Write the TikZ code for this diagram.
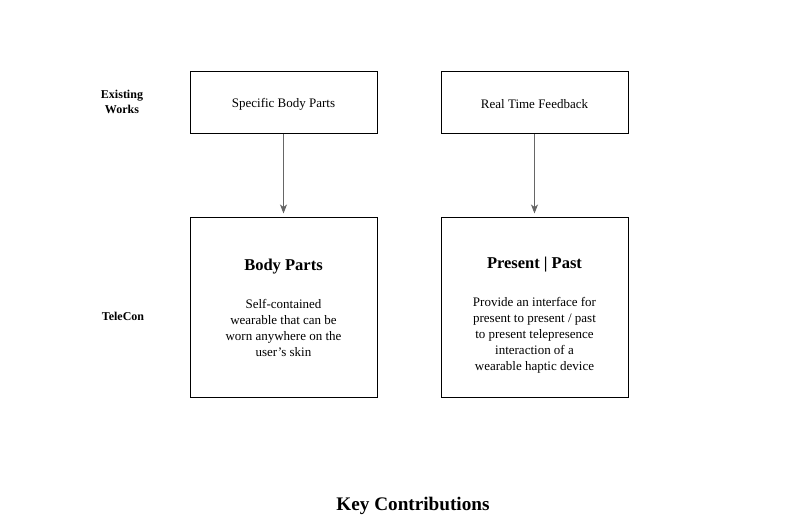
\documentclass[tikz,border=0pt]{standalone}
\usepackage{fontspec}
\setmainfont{Liberation Serif}
\usetikzlibrary{arrows.meta}
\begin{document}
\begin{tikzpicture}[x=1pt,y=-1pt,
  box/.style={draw=black,line width=1pt,fill=white,inner sep=0pt},
  body/.style={font=\fontsize{13}{16}\selectfont,align=center},
  side/.style={font=\bfseries\fontsize{12}{15}\selectfont,align=center},
  arr/.style={draw=black!60,line width=0.9pt,-{Stealth[length=9pt,width=7pt,inset=2.5pt]}}]
\useasboundingbox (0,0) rectangle (812,532);
\node[box,minimum width=187pt,minimum height=62pt] (sbp) at (283.5,103) {};
\node[box,minimum width=187pt,minimum height=62pt] (rtf) at (534.5,103) {};
\node[body] (sbpt) at (283.5,104.5) {Specific Body Parts};
\node[body] (rtft) at (534.5,104.5) {Real Time Feedback};
\node[box,minimum width=187pt,minimum height=179pt] (bp) at (283.5,307.5) {};
\node[box,minimum width=187pt,minimum height=179pt] (pp) at (534.5,307.5) {};
\node[font=\bfseries\fontsize{16.5}{20}\selectfont] (bpt) at (283.5,266.5) {Body Parts};
\node[font=\bfseries\fontsize{16.5}{20}\selectfont] (ppt) at (534.5,264.5) {Present | Past};
\node[body] (bpd) at (283.5,328) {Self-contained\\wearable that can be\\worn anywhere on the\\user's skin};
\node[body] (ppd) at (534.5,335) {Provide an interface for\\present to present / past\\to present telepresence\\interaction of a\\wearable haptic device};
\node[side] (ew) at (122,101.5) {Existing\\Works};
\node[side] (tc) at (123,316) {TeleCon};
\node[font=\bfseries\fontsize{19.2}{24}\selectfont] (kc) at (413,506) {Key Contributions};
\draw[arr] (sbp.south) -- ([yshift=4pt]bp.north);
\draw[arr] (rtf.south) -- ([yshift=4pt]pp.north);
\end{tikzpicture}
\end{document}
